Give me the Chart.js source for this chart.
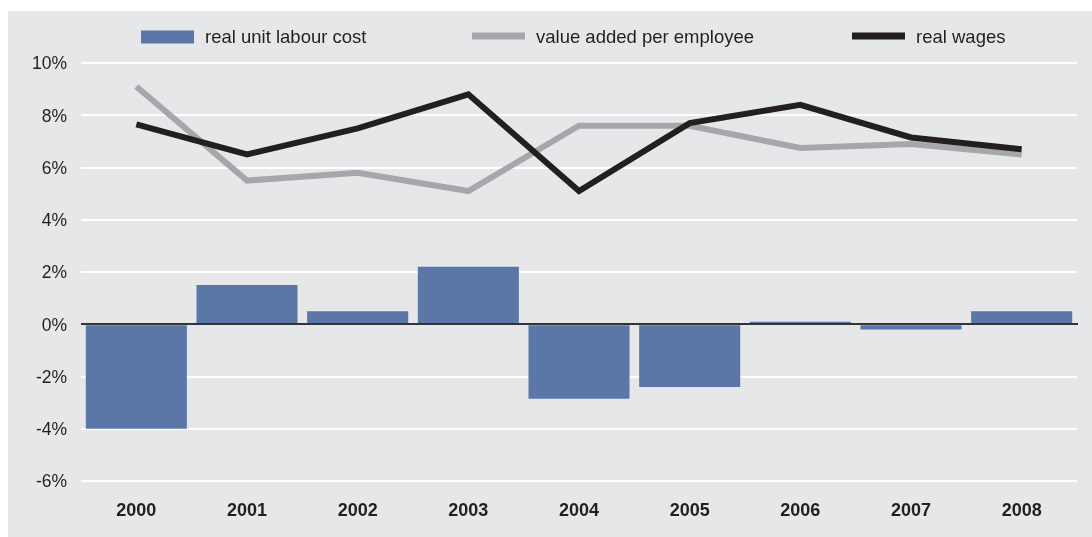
<!DOCTYPE html>
<html>
<head>
<meta charset="utf-8">
<script src="https://cdn.jsdelivr.net/npm/chart.js@4"></script>
<style>
  html, body { margin: 0; padding: 0; background: #ffffff; }
  #wrap { width: 1092px; height: 537px; position: relative; }
</style>
</head>
<body>
<div id="wrap"><canvas id="c" width="1092" height="537"></canvas></div>
<script>
// Annual growth rates, per cent
const years = ['2000', '2001', '2002', '2003', '2004', '2005', '2006', '2007', '2008'];
const realUnitLabourCost = [-4.0, 1.5, 0.5, 2.2, -2.85, -2.4, 0.1, -0.2, 0.5];
const valueAddedPerEmployee = [9.1, 5.5, 5.8, 5.1, 7.6, 7.6, 6.75, 6.9, 6.5];
const realWages = [7.65, 6.5, 7.5, 8.8, 5.1, 7.7, 8.4, 7.15, 6.7];
const yTicks = [-6, -4, -2, 0, 2, 4, 6, 8, 10];

const BLUE = '#5a77a8';
const GREY = '#a6a7aa';
const BLACK = '#231f20';
const PANEL = '#e6e7e9';
const FONT = "'Liberation Sans', Arial, sans-serif";

// Grey panel behind the whole chart
const panelPlugin = {
  id: 'panel',
  beforeDraw(chart) {
    const ctx = chart.ctx;
    ctx.save();
    ctx.fillStyle = '#ffffff';
    ctx.fillRect(0, 0, chart.width, chart.height);
    ctx.fillStyle = PANEL;
    ctx.fillRect(8, 11, chart.width - 8, chart.height - 11);
    ctx.restore();
  }
};

// Solid zero line drawn over the bars
const zeroLinePlugin = {
  id: 'zeroLine',
  afterDatasetsDraw(chart) {
    const y = Math.round(chart.scales.y.getPixelForValue(0));
    const a = chart.chartArea;
    const ctx = chart.ctx;
    ctx.save();
    ctx.strokeStyle = '#333333';
    ctx.lineWidth = 2;
    ctx.beginPath();
    ctx.moveTo(a.left, y);
    ctx.lineTo(a.right + 1, y);
    ctx.stroke();
    ctx.restore();
  }
};

// Horizontal key across the top
const keyPlugin = {
  id: 'key',
  afterDraw(chart, args, opts) {
    const ctx = chart.ctx;
    ctx.save();
    ctx.font = opts.fontSize + 'px ' + FONT;
    ctx.textBaseline = 'middle';
    ctx.textAlign = 'left';
    chart.data.datasets.forEach((ds, i) => {
      const x = opts.xs[i];
      const y = opts.y;
      if (ds.type === 'bar') {
        ctx.fillStyle = ds.backgroundColor;
        ctx.fillRect(x, y - opts.boxHeight / 2, opts.boxWidth, opts.boxHeight);
      } else {
        ctx.strokeStyle = ds.borderColor;
        ctx.lineWidth = opts.lineHeight;
        ctx.beginPath();
        ctx.moveTo(x, y - 1);
        ctx.lineTo(x + opts.boxWidth, y - 1);
        ctx.stroke();
      }
      ctx.fillStyle = BLACK;
      ctx.fillText(ds.label, x + opts.boxWidth + opts.gap, y + 1);
    });
    ctx.restore();
  }
};

new Chart(document.getElementById('c'), {
  data: {
    labels: years,
    datasets: [
      {
        type: 'bar',
        label: 'real unit labour cost',
        data: realUnitLabourCost,
        backgroundColor: BLUE,
        borderWidth: 0,
        barPercentage: 0.913,
        categoryPercentage: 1.0,
        order: 3
      },
      {
        type: 'line',
        label: 'value added per employee',
        data: valueAddedPerEmployee,
        borderColor: GREY,
        backgroundColor: GREY,
        borderWidth: 6,
        pointRadius: 0,
        tension: 0,
        borderJoinStyle: 'miter',
        borderCapStyle: 'butt',
        order: 2
      },
      {
        type: 'line',
        label: 'real wages',
        data: realWages,
        borderColor: BLACK,
        backgroundColor: BLACK,
        borderWidth: 6,
        pointRadius: 0,
        tension: 0,
        borderJoinStyle: 'miter',
        borderCapStyle: 'butt',
        order: 1
      }
    ]
  },
  options: {
    responsive: false,
    animation: false,
    events: [],
    layout: { padding: { left: 0, right: 15, top: 63, bottom: 0 } },
    plugins: {
      legend: { display: false },
      tooltip: { enabled: false },
      key: { xs: [141, 472, 852], y: 37, boxWidth: 53, boxHeight: 13, lineHeight: 7, gap: 11, fontSize: 18.5 }
    },
    scales: {
      x: {
        offset: true,
        grid: { display: false, drawTicks: false },
        border: { display: false },
        ticks: {
          color: BLACK,
          padding: 19.5,
          font: { family: FONT, size: 18, weight: 'bold' }
        },
        afterFit(scale) { scale.height = 56; }
      },
      y: {
        min: -6,
        max: 10,
        afterBuildTicks(scale) { scale.ticks = yTicks.map(v => ({ value: v })); },
        grid: { color: '#ffffff', lineWidth: 2, drawTicks: false },
        border: { display: false },
        ticks: {
          color: BLACK,
          padding: 14,
          labelOffset: 1.5,
          font: { family: FONT, size: 17.5 },
          callback: v => v + '%'
        },
        afterFit(scale) { scale.width = 81; }
      }
    }
  },
  plugins: [panelPlugin, zeroLinePlugin, keyPlugin]
});
</script>
</body>
</html>
